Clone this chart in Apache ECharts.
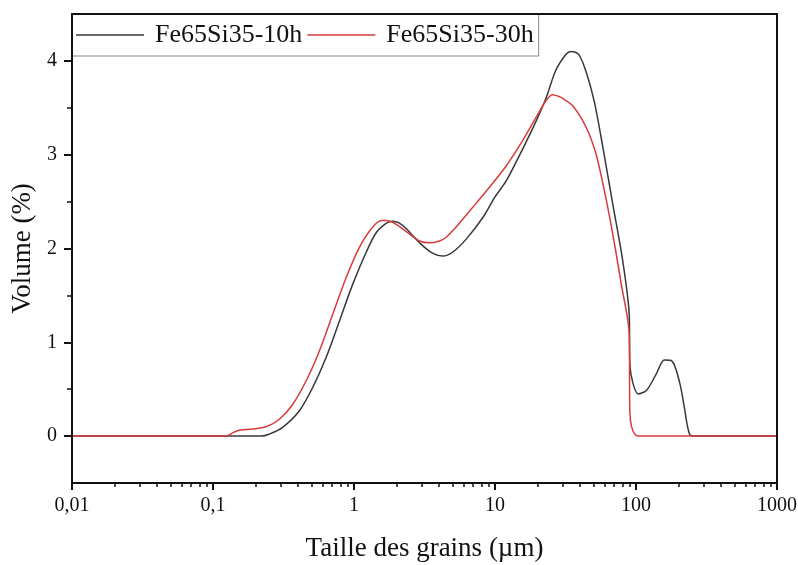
<!DOCTYPE html>
<html>
<head>
<meta charset="utf-8">
<script src="https://cdn.jsdelivr.net/npm/echarts@6/dist/echarts.min.js"></script>
<style>html,body{margin:0;padding:0;background:#fff}#c{width:798px;height:565px}</style>
</head>
<body>
<div id="c"></div>
<script>
var seriesNames = ['Fe65Si35-10h', 'Fe65Si35-30h'];
var size10h = [0.01, 0.22, 0.25, 0.31, 0.41, 0.51, 0.635, 0.79, 0.98, 1.22, 1.44, 1.7, 1.88, 2.1, 2.35, 2.92, 3.6, 4.26, 5.0, 6.25, 8.2, 10, 12.0, 15.7, 19.6, 23.1, 27.0, 31.9, 34.5, 37.5, 39.7, 44.4, 50.7, 58.2, 68.3, 80.5, 89.5, 90.6, 104, 119, 139, 159, 180, 204, 220, 240, 266, 1000];
var vol10h  = [0, 0, 0.02, 0.09, 0.27, 0.52, 0.84, 1.23, 1.62, 1.96, 2.17, 2.27, 2.29, 2.27, 2.21, 2.06, 1.95, 1.92, 1.96, 2.10, 2.33, 2.55, 2.72, 3.06, 3.36, 3.61, 3.90, 4.07, 4.10, 4.09, 4.06, 3.88, 3.56, 3.08, 2.48, 1.87, 1.30, 0.75, 0.45, 0.49, 0.66, 0.81, 0.80, 0.57, 0.31, 0.02, 0, 0];
var size30h = [0.01, 0.124, 0.14, 0.155, 0.19, 0.238, 0.296, 0.368, 0.458, 0.569, 0.707, 0.88, 1.09, 1.36, 1.6, 1.88, 2.35, 2.92, 3.43, 4.04, 4.51, 5.3, 6.96, 9.1, 12.0, 15.7, 19.6, 23.1, 25.7, 28.4, 30.2, 35.7, 44.4, 52, 59.6, 68.3, 78.6, 89.5, 90.5, 104, 1000];
var vol30h  = [0, 0, 0.04, 0.065, 0.075, 0.10, 0.18, 0.34, 0.59, 0.91, 1.30, 1.69, 2.01, 2.23, 2.30, 2.28, 2.18, 2.08, 2.06, 2.08, 2.12, 2.23, 2.44, 2.65, 2.88, 3.15, 3.40, 3.58, 3.64, 3.62, 3.60, 3.52, 3.29, 3.01, 2.62, 2.16, 1.62, 1.09, 0.25, 0, 0];
var xTickValues = [0.01, 0.1, 1, 10, 100, 1000];
var xTickLabels = ['0,01', '0,1', '1', '10', '100', '1000'];
var xMinorTicks = [0.02,0.03,0.04,0.05,0.06,0.07,0.08,0.09,0.2,0.3,0.4,0.5,0.6,0.7,0.8,0.9,2,3,4,5,6,7,8,9,20,30,40,50,60,70,80,90,200,300,400,500,600,700,800,900];
var yTickValues = [0, 1, 2, 3, 4];
var yTickLabels = ['0', '1', '2', '3', '4'];
var yMinorTicks = [0.5, 1.5, 2.5, 3.5];

function pairs(xs, ys) { return xs.map(function (x, i) { return [x, ys[i]]; }); }

var FONT = 'Liberation Serif';
var INK = '#111';
var chart = echarts.init(document.getElementById('c'), null, {renderer: 'canvas'});
chart.setOption({
  animation: false,
  backgroundColor: '#fff',
  grid: {left: 72, right: 21, top: 14, bottom: 82, containLabel: false, outerBoundsMode: 'none'},
  legend: {
    left: 72, top: 14,
    orient: 'horizontal',
    padding: [8, 5, 8, 4],
    itemGap: 5,
    icon: 'rect',
    itemWidth: 68, itemHeight: 1.5,
    borderColor: '#888', borderWidth: 1,
    backgroundColor: '#fff',
    textStyle: {fontFamily: FONT, fontSize: 26, color: INK, padding: [0, 0, 0, 6]},
    data: seriesNames
  },
  xAxis: [
    {
      type: 'log', logBase: 10, min: 0.01, max: 1000, position: 'bottom', z: 10,
      name: 'Taille des grains (\u00b5m)', nameLocation: 'middle', nameGap: 52,
      nameTextStyle: {fontFamily: FONT, fontSize: 27, color: INK},
      axisLine: {show: true, onZero: false, lineStyle: {color: INK, width: 2}},
      axisTick: {show: true, inside: false, length: 7, lineStyle: {color: INK, width: 2}},
      axisLabel: {
        fontFamily: FONT, fontSize: 20, color: INK, margin: 13,
        formatter: function (v) {
          for (var i = 0; i < xTickValues.length; i++) {
            if (Math.abs(Math.log10(v) - Math.log10(xTickValues[i])) < 1e-6) return xTickLabels[i];
          }
          return '';
        }
      },
      splitLine: {show: false}
    },
    {
      type: 'log', logBase: 10, min: 0.01, max: 1000, position: 'bottom',
      axisLine: {show: false, onZero: false},
      axisTick: {show: true, inside: false, length: 4, customValues: xMinorTicks, lineStyle: {color: INK, width: 1.5}},
      axisLabel: {show: false},
      splitLine: {show: false}
    },
    {
      type: 'log', logBase: 10, min: 0.01, max: 1000, position: 'top', z: 10,
      axisLine: {show: true, onZero: false, lineStyle: {color: INK, width: 2}},
      axisTick: {show: false}, axisLabel: {show: false}, splitLine: {show: false}
    }
  ],
  yAxis: [
    {
      type: 'value', min: -0.5, max: 4.5, position: 'left', z: 10,
      name: 'Volume (%)', nameLocation: 'middle', nameGap: 34, nameRotate: 90,
      nameTextStyle: {fontFamily: FONT, fontSize: 27, color: INK},
      axisLine: {show: true, onZero: false, lineStyle: {color: INK, width: 2}},
      axisTick: {show: true, inside: false, length: 8, customValues: yTickValues, lineStyle: {color: INK, width: 2}},
      axisLabel: {
        fontFamily: FONT, fontSize: 20, color: INK, margin: 15, customValues: yTickValues,
        formatter: function (v) { var i = yTickValues.indexOf(Math.round(v)); return i >= 0 ? yTickLabels[i] : ''; }
      },
      splitLine: {show: false}
    },
    {
      type: 'value', min: -0.5, max: 4.5, position: 'left',
      axisLine: {show: false, onZero: false},
      axisTick: {show: true, inside: false, length: 5, customValues: yMinorTicks, lineStyle: {color: INK, width: 1.5}},
      axisLabel: {show: false}, splitLine: {show: false}
    },
    {
      type: 'value', min: -0.5, max: 4.5, position: 'right', z: 10,
      axisLine: {show: true, onZero: false, lineStyle: {color: INK, width: 2}},
      axisTick: {show: false}, axisLabel: {show: false}, splitLine: {show: false}
    }
  ],
  series: [
    {
      name: seriesNames[0], type: 'line', xAxisIndex: 0, yAxisIndex: 0,
      data: pairs(size10h, vol10h), showSymbol: false, symbol: 'none',
      smooth: 0.3,
      lineStyle: {color: '#383838', width: 1.5}, itemStyle: {color: '#383838'}
    },
    {
      name: seriesNames[1], type: 'line', xAxisIndex: 0, yAxisIndex: 0,
      data: pairs(size30h, vol30h), showSymbol: false, symbol: 'none',
      smooth: 0.3,
      lineStyle: {color: '#d93a3a', width: 1.5}, itemStyle: {color: '#d93a3a'}
    }
  ]
});
</script>
</body>
</html>
